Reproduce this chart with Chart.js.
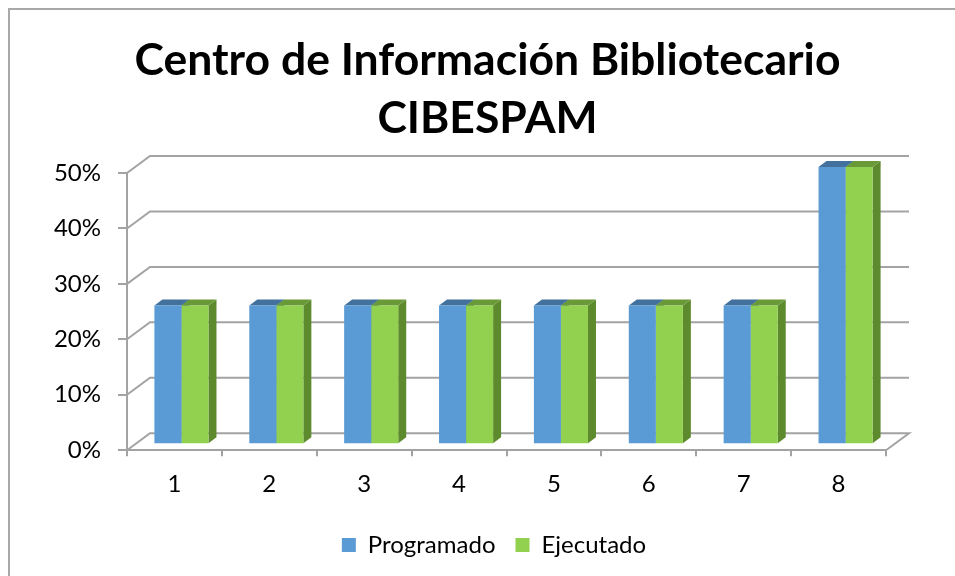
<!DOCTYPE html>
<html><head><meta charset="utf-8">
<script src="https://cdn.jsdelivr.net/npm/chart.js@4.4.0/dist/chart.umd.min.js"></script>
<style>html,body{margin:0;padding:0;background:#fff}canvas{display:block}</style>
</head><body>
<canvas id="c" width="955" height="576"></canvas>
<script>
const categories = ['1','2','3','4','5','6','7','8'];
const programado = [25,25,25,25,25,25,25,50];
const ejecutado  = [25,25,25,25,25,25,25,50];
const yTicks = [0,10,20,30,40,50];
const titleLines = ['Centro de Información Bibliotecario','CIBESPAM'];

const FONT = 'Lato';
const GRID = '#a3a3a3';
const DEPTH = {dx:23, dy:-17};
const BAR_SHIFT = {dx:7, dy:-6};
const BAR_DEPTH = {dx:8, dy:-6};
const LEGEND_SHIFT = 102;
const faceColors = [
  {front:'#5b9bd5', top:'#41719c', side:'#41719c'},
  {front:'#92d050', top:'#6a9a38', side:'#5e8a2e'}
];

const threeD = {
  id:'threeD',
  afterLayout(chart){
    if (chart.legend) chart.legend.left += LEGEND_SHIFT;
  },
  beforeDraw(chart){
    const ctx = chart.ctx;
    ctx.save();
    ctx.strokeStyle = '#a8a8a8'; ctx.lineWidth = 2;
    ctx.beginPath(); ctx.moveTo(9, 600); ctx.lineTo(9, 9); ctx.lineTo(960, 9); ctx.stroke();
    ctx.restore();
  },
  beforeDatasetsDraw(chart){
    const ctx = chart.ctx, y = chart.scales.y, a = chart.chartArea;
    ctx.save();
    ctx.strokeStyle = GRID; ctx.lineWidth = 2;
    yTicks.forEach(v => {
      const py = y.getPixelForValue(v);
      ctx.beginPath();
      ctx.moveTo(a.left, py);
      ctx.lineTo(a.left + DEPTH.dx, py + DEPTH.dy);
      ctx.lineTo(a.right + DEPTH.dx, py + DEPTH.dy);
      if (v === 0) ctx.lineTo(a.right, py);
      ctx.stroke();
    });
    ctx.restore();
    ctx.save();
    ctx.translate(BAR_SHIFT.dx, BAR_SHIFT.dy);
    chart.data.datasets.forEach((ds, di) => {
      const meta = chart.getDatasetMeta(di);
      meta.data.forEach(el => {
        const p = el.getProps(['x','y','base','width']);
        const l = p.x - p.width/2, r = p.x + p.width/2;
        ctx.fillStyle = faceColors[di].side;
        ctx.beginPath();
        ctx.moveTo(r, p.base); ctx.lineTo(r + BAR_DEPTH.dx, p.base + BAR_DEPTH.dy);
        ctx.lineTo(r + BAR_DEPTH.dx, p.y + BAR_DEPTH.dy); ctx.lineTo(r, p.y); ctx.closePath(); ctx.fill();
        ctx.fillStyle = faceColors[di].top;
        ctx.beginPath();
        ctx.moveTo(l, p.y); ctx.lineTo(l + BAR_DEPTH.dx, p.y + BAR_DEPTH.dy);
        ctx.lineTo(r + BAR_DEPTH.dx, p.y + BAR_DEPTH.dy); ctx.lineTo(r, p.y); ctx.closePath(); ctx.fill();
      });
    });
  },
  afterDatasetsDraw(chart){ chart.ctx.restore(); },
  afterDraw(chart){
    const ctx = chart.ctx;
    ctx.save();
    ctx.fillStyle = '#000';
    ctx.font = 'bold 44.5px ' + FONT;
    ctx.textAlign = 'center'; ctx.textBaseline = 'alphabetic';
    ctx.fillText(titleLines[0], 487.5, 75);
    ctx.fillText(titleLines[1], 487.5, 133);
    ctx.restore();
  }
};

new Chart(document.getElementById('c'), {
  type:'bar',
  data:{
    labels:categories,
    datasets:[
      {label:'Programado', data:programado, backgroundColor:faceColors[0].front, borderWidth:0},
      {label:'Ejecutado', data:ejecutado, backgroundColor:faceColors[1].front, borderWidth:0}
    ]
  },
  options:{
    responsive:false, animation:false, devicePixelRatio:1,
    layout:{padding:{left:0,right:69,top:173,bottom:9}},
    datasets:{bar:{categoryPercentage:0.57, barPercentage:1}},
    plugins:{
      title:{display:false},
      legend:{position:'bottom', labels:{font:{family:FONT,size:24}, color:'#000', boxWidth:14, boxHeight:14, padding:20}},
      tooltip:{enabled:false}
    },
    scales:{
      x:{
        grid:{drawOnChartArea:false, color:GRID, lineWidth:2, tickLength:6, offset:true},
        border:{color:GRID, width:2},
        ticks:{font:{family:FONT,size:24}, color:'#000', padding:14}
      },
      y:{
        min:0, max:50,
        afterFit(s){ s.width = 127; },
        grid:{drawOnChartArea:false, color:GRID, lineWidth:2, tickLength:9},
        border:{color:GRID, width:2},
        ticks:{stepSize:10, font:{family:FONT,size:24}, color:'#000', padding:17, callback:v=>v+'%'}
      }
    }
  },
  plugins:[threeD]
});
</script>
</body></html>
